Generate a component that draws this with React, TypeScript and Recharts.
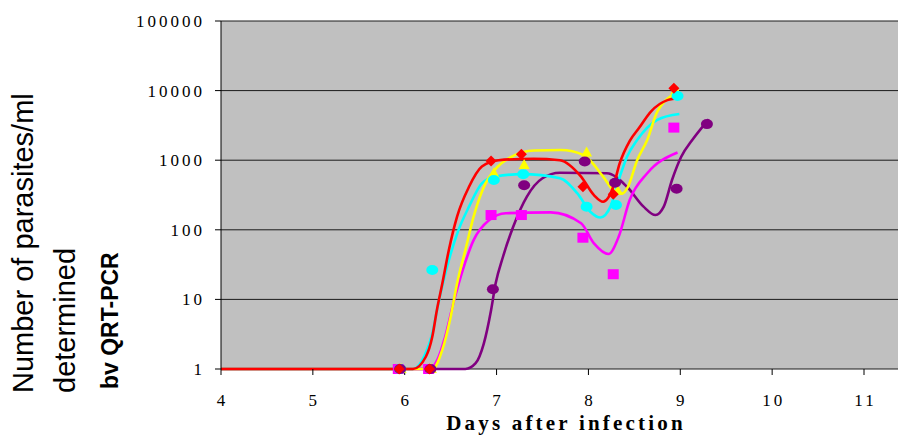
import React from "react";
import {
  ComposedChart,
  Line,
  Scatter,
  XAxis,
  YAxis,
  CartesianGrid,
} from "recharts";

// measured points (days after infection, parasites/ml)
const redDays = [5.94, 6.27, 6.94, 7.27, 7.94, 8.27, 8.93];
const redValues = [1, 1, 970, 1215, 415, 324, 10800];
const yellowDays = [5.96, 6.29, 6.97, 7.3, 7.98, 8.32, 8.95];
const yellowValues = [1, 1, 650, 850, 1290, 360, 10000];
const cyanDays = [5.95, 6.3, 6.97, 7.29, 7.98, 8.3, 8.97];
const cyanValues = [1, 26.5, 520, 630, 215, 227, 8350];
const magentaDays = [5.93, 6.26, 6.94, 7.27, 7.94, 8.27, 8.93];
const magentaValues = [1, 1, 163, 163, 77, 23, 2940];
const purpleDays = [5.95, 6.28, 6.96, 7.3, 7.96, 8.29, 8.96, 9.29];
const purpleValues = [1, 1, 14, 436, 960, 475, 390, 3300];

// smoothed curves
const redCurveDays = [4, 6.09, 6.23, 6.3, 6.35, 6.41, 6.48, 6.57, 6.7, 6.84, 7.02, 7.4, 7.69, 7.92, 8.06, 8.16, 8.27, 8.34, 8.45, 8.55, 8.68, 8.86, 8.99];
const redCurveValues = [1, 1, 1.5, 2.9, 7, 17, 51, 155, 415, 810, 1000, 1050, 1000, 580, 315, 253, 415, 900, 1900, 2900, 5000, 7300, 7800];
const yellowCurveDays = [4, 6.3, 6.41, 6.5, 6.57, 6.66, 6.75, 6.88, 6.98, 7.16, 7.41, 7.7, 7.95, 8.16, 8.27, 8.37, 8.43, 8.53, 8.64, 8.75, 8.99];
const yellowCurveValues = [1, 1, 1.9, 5.6, 17, 51, 155, 465, 725, 1120, 1380, 1400, 1180, 580, 372, 333, 415, 1000, 1950, 5000, 9600];
const cyanCurveDays = [4, 6.09, 6.22, 6.3, 6.36, 6.42, 6.5, 6.58, 6.7, 6.84, 6.98, 7.28, 7.69, 7.88, 8.02, 8.13, 8.24, 8.33, 8.42, 8.53, 8.75, 8.99];
const cyanCurveValues = [1, 1, 1.6, 3.2, 8, 18, 45, 95, 215, 465, 580, 630, 550, 333, 182, 150, 215, 520, 1120, 1950, 3800, 4600];
const magentaCurveDays = [4, 6.27, 6.36, 6.44, 6.54, 6.63, 6.75, 6.92, 7.1, 7.59, 7.92, 8.06, 8.22, 8.33, 8.45, 8.64, 8.97];
const magentaCurveValues = [1, 1, 1.4, 2.9, 10, 26, 71, 138, 173, 178, 124, 64, 45, 80, 270, 650, 1290];
const purpleCurveDays = [4, 6.66, 6.77, 6.86, 6.94, 6.99, 7.07, 7.18, 7.33, 7.5, 7.69, 8.2, 8.42, 8.6, 8.73, 8.82, 8.91, 9.01, 9.13, 9.31];
const purpleCurveValues = [1, 1, 1.2, 2.3, 7, 17, 41, 110, 300, 550, 660, 650, 415, 215, 163, 215, 520, 1120, 1950, 3870];

const xTicks = [4, 5, 6, 7, 8, 9, 10, 11];
const yTicks = [1, 10, 100, 1000, 10000, 100000];

const toRows = (days: number[], values: number[]) =>
  days.map((d, i) => ({ d, v: values[i] }));

const Diamond = (p: any) => (
  <polygon
    points={`${p.cx},${p.cy - 5.5} ${p.cx + 5.5},${p.cy} ${p.cx},${p.cy + 5.5} ${p.cx - 5.5},${p.cy}`}
    fill="#FF0000"
  />
);
const Triangle = (p: any) => (
  <polygon
    points={`${p.cx},${p.cy - 6} ${p.cx + 5.5},${p.cy + 4} ${p.cx - 5.5},${p.cy + 4}`}
    fill="#FFFF00"
  />
);
const Square = (p: any) => (
  <rect x={p.cx - 5.5} y={p.cy - 5} width={11} height={10} fill="#FF00FF" />
);
const dotOf = (color: string) => (p: any) =>
  <ellipse cx={p.cx} cy={p.cy} rx={6} ry={5} fill={color} />;

const serif = "'Liberation Serif', 'Times New Roman', serif";

const YTick = ({ x, y, payload }: any) => (
  <text x={x + 2} y={y + 6} textAnchor="end" fontFamily={serif} fontSize={17} letterSpacing={3} fill="#000">
    {payload.value}
  </text>
);
const XTick = ({ x, payload }: any) => (
  <text x={x + 1.5} y={406} textAnchor="middle" fontFamily={serif} fontSize={17} letterSpacing={3} fill="#000">
    {payload.value}
  </text>
);

export default function App() {
  const lines = [
    { key: "purple", color: "#800080", rows: toRows(purpleCurveDays, purpleCurveValues) },
    { key: "magenta", color: "#FF00FF", rows: toRows(magentaCurveDays, magentaCurveValues) },
    { key: "cyan", color: "#00FFFF", rows: toRows(cyanCurveDays, cyanCurveValues) },
    { key: "yellow", color: "#FFFF00", rows: toRows(yellowCurveDays, yellowCurveValues) },
    { key: "red", color: "#FF0000", rows: toRows(redCurveDays, redCurveValues) },
  ];

  return (
    <div style={{ position: "absolute", left: 0, top: 0, width: 898, height: 435 }}>
      <ComposedChart width={898} height={435} margin={{ top: 21, right: 0, bottom: 0, left: 0 }}>
        <CartesianGrid vertical={false} stroke="#1a1a1a" fill="#C0C0C0" fillOpacity={1} />
        <XAxis
          type="number"
          dataKey="d"
          domain={[4, 11.37]}
          ticks={xTicks}
          height={66}
          stroke="#000"
          axisLine={false}
          tickSize={6}
          tick={<XTick />}
        />
        <YAxis
          type="number"
          dataKey="v"
          scale="log"
          domain={[1, 100000]}
          ticks={yTicks}
          width={221}
          stroke="#000"
          tickSize={6}
          tickMargin={12}
          tick={<YTick />}
        />
        {lines.map((l) => (
          <Line
            key={l.key}
            data={l.rows}
            dataKey="v"
            type="monotone"
            stroke={l.color}
            strokeWidth={2.6}
            dot={false}
            activeDot={false}
            isAnimationActive={false}
          />
        ))}
        <Scatter data={toRows(magentaDays, magentaValues)} shape={Square} isAnimationActive={false} />
        <Scatter data={toRows(yellowDays, yellowValues)} shape={Triangle} isAnimationActive={false} />
        <Scatter data={toRows(cyanDays, cyanValues)} shape={dotOf("#00FFFF")} isAnimationActive={false} />
        <Scatter data={toRows(purpleDays, purpleValues)} shape={dotOf("#800080")} isAnimationActive={false} />
        <Scatter data={toRows(redDays, redValues)} shape={Diamond} isAnimationActive={false} />
      </ComposedChart>
      <svg width={898} height={435} style={{ position: "absolute", left: 0, top: 0, pointerEvents: "none" }}>
        <text transform="rotate(-90, 33, 393)" x={33} y={393} fontFamily="'Liberation Sans', Arial, sans-serif" fontSize={29} fill="#000">
          Number of parasites/ml
        </text>
        <text transform="rotate(-90, 75, 393)" x={75} y={393} fontFamily="'Liberation Sans', Arial, sans-serif" fontSize={29} fill="#000">
          determined
        </text>
        <text transform="rotate(-90, 118, 389)" x={118} y={389} fontFamily="'Liberation Sans', Arial, sans-serif" fontSize={23} fontWeight="bold" fill="#000">
          bv QRT-PCR
        </text>
        <text x={566} y={430} textAnchor="middle" fontFamily={serif} fontSize={21} fontWeight="bold" letterSpacing={3.2} fill="#000">
          Days after infection
        </text>
      </svg>
    </div>
  );
}
